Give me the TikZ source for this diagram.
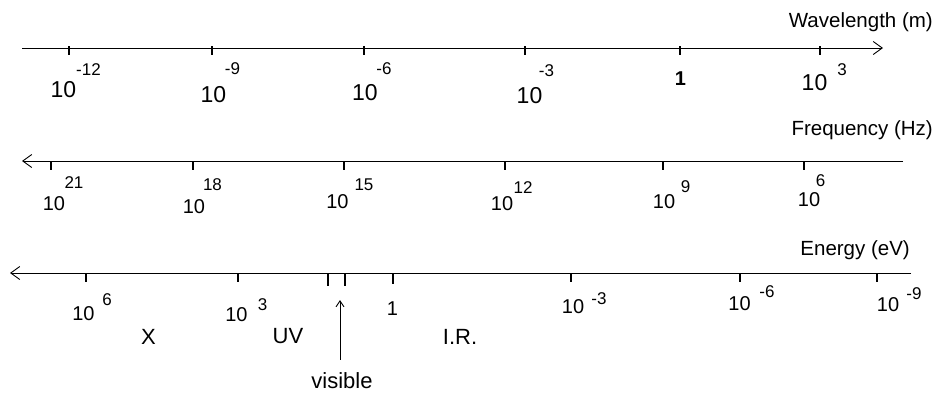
\documentclass[tikz,border=0pt]{standalone}
\usepackage{fontspec}
\setmainfont{Liberation Sans}
\usetikzlibrary{arrows.meta}
\tikzset{
  axisline/.style={line width=0.9pt},
  ticmark/.style={line width=2pt},
  big/.style={font=\fontsize{23}{23}\selectfont, inner sep=0pt},
  mid/.style={font=\fontsize{20}{20}\selectfont, inner sep=0pt},
  band/.style={font=\fontsize{22}{22}\selectfont, inner sep=0pt},
  expo/.style={font=\fontsize{17}{17}\selectfont, inner sep=0pt},
  title/.style={font=\fontsize{20.5}{20.5}\selectfont, inner sep=0pt, anchor=east},
  openhead/.style={-{Straight Barb[length=9pt,width=13pt,line width=0.9pt]}},
}
\begin{document}
\begin{tikzpicture}[x=1pt,y=-1pt]
        \useasboundingbox (0,0) rectangle (938,392);

        %wavelength
        \coordinate (wa) at (22,48);
        \coordinate (wb) at (883,48);
        \draw[axisline, openhead] (wa) -- (wb);
        \draw[ticmark] (69,46) -- ++(0,9);
        \draw[ticmark] (212,46) -- ++(0,9);
        \draw[ticmark] (364,46) -- ++(0,9);
        \draw[ticmark] (525,46) -- ++(0,9);
        \draw[ticmark] (680,46) -- ++(0,9);
        \draw[ticmark] (820,46) -- ++(0,9);
        \node[title] (wtitle) at (933,22) {Wavelength (m)};
        \node[big] (w1) at (63.5,89.5) {10};
        \node[expo] (w1e) at (88.5,70) {-12};
        \node[big] (w2) at (213.5,94.5) {10};
        \node[expo] (w2e) at (232.5,69) {-9};
        \node[big] (w3) at (365,92.5) {10};
        \node[expo] (w3e) at (384,69) {-6};
        \node[big] (w4) at (529.5,96) {10};
        \node[expo] (w4e) at (546.5,71) {-3};
        \node[inner sep=0pt, font=\bfseries\fontsize{20}{20}\selectfont] (w5) at (680.5,79) {1};
        \node[big] (w6) at (814.5,82.5) {10};
        \node[expo] (w6e) at (842,70) {3};

        %frequency
        \coordinate (fa) at (22,161);
        \coordinate (fb) at (903,161);
        \draw[axisline, openhead] (fb) -- (fa);
        \draw[ticmark] (51,161) -- ++(0,9);
        \draw[ticmark] (193,161) -- ++(0,9);
        \draw[ticmark] (344,161) -- ++(0,9);
        \draw[ticmark] (505,161) -- ++(0,9);
        \draw[ticmark] (663,161) -- ++(0,9);
        \draw[ticmark] (804,161) -- ++(0,9);
        \node[title] (ftitle) at (933,130) {Frequency (Hz)};
        \node[mid] (f1) at (54,203.5) {10};
        \node[expo] (f1e) at (74,183) {21};
        \node[mid] (f2) at (194,206.5) {10};
        \node[expo] (f2e) at (212.5,185) {18};
        \node[mid] (f3) at (337.5,201.5) {10};
        \node[expo] (f3e) at (364,185) {15};
        \node[mid] (f4) at (502,204) {10};
        \node[expo] (f4e) at (523,187.5) {12};
        \node[mid] (f5) at (664,201.5) {10};
        \node[expo] (f5e) at (685.5,187) {9};
        \node[mid] (f6) at (809,200) {10};
        \node[expo] (f6e) at (820.5,181) {6};

        %energy
        \coordinate (ea) at (10,273);
        \coordinate (eb) at (911,273);
        \draw[axisline, openhead] (eb) -- (ea);
        \draw[ticmark] (86,273) -- ++(0,9);
        \draw[ticmark] (238,273) -- ++(0,9);
        \draw[ticmark, line width=2.6pt] (328,273) -- ++(0,13);
        \draw[ticmark, line width=2.6pt] (345,273) -- ++(0,13);
        \draw[ticmark] (393,273) -- ++(0,11);
        \draw[ticmark] (571,273) -- ++(0,9);
        \draw[ticmark] (740,273) -- ++(0,9);
        \draw[ticmark] (877,273) -- ++(0,9);
        \node[title] (etitle) at (910,250) {Energy (eV)};
        \node[mid] (e1) at (83.5,313.5) {10};
        \node[expo] (e1e) at (107,300) {6};
        \node[mid] (e2) at (236.5,315) {10};
        \node[expo] (e2e) at (262.5,305) {3};
        \node[mid] (e3) at (392.5,308.5) {1};
        \node[mid] (e4) at (573,306.5) {10};
        \node[expo] (e4e) at (599,298.5) {-3};
        \node[mid] (e5) at (739.5,303.5) {10};
        \node[expo] (e5e) at (767,291.5) {-6};
        \node[mid] (e6) at (888,305) {10};
        \node[expo] (e6e) at (914,293.5) {-9};

        % bands
        \node[band] (xray) at (148.5,336.5) {X};
        \node[band] (uv) at (288,336.5) {UV};
        \node[band] (ir) at (460,336.5) {I.R.};
        \node[band] (visible) at (342,381) {visible};
        \coordinate (vistip) at (340,300);
        \draw[line width=0.9pt, -{Straight Barb[length=6pt,width=8pt]}] (visible.north -| vistip) ++(0,-13) -- (vistip);
\end{tikzpicture}
\end{document}
